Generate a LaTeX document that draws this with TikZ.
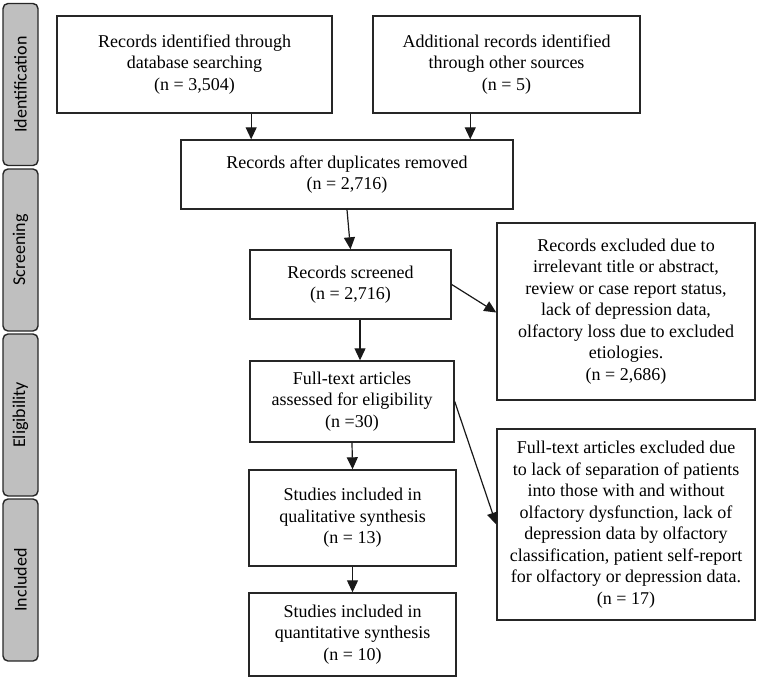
\documentclass[tikz,border=0pt]{standalone}
\usepackage{fontspec}
\setmainfont{Liberation Serif}
\newfontfamily\sidefont{Carlito}
\usetikzlibrary{positioning,calc,arrows.meta}

\tikzset{
    box/.style={draw=black!85, line width=1.4pt, align=center, inner sep=2pt,
        font=\fontsize{18}{21.5}\selectfont},
    phase/.style={draw=black!85, line width=1.4pt, fill=black!25, rounded corners=5pt,
        minimum width=162pt, minimum height=35pt, rotate=90, anchor=center,
        font=\sidefont\fontsize{18}{20}\selectfont},
    arr/.style={-{Triangle[length=12pt,width=11pt]}, line width=1.2pt, black!90}
}

\begin{document}
\begin{tikzpicture}[x=1pt, y=-1pt]
    \useasboundingbox (0,0) rectangle (759,679);

    % Phase bars
    \node[phase] (idn) at (20.5,84.5) {Identification};
    \node[phase] (scr) at (20.5,250) {Screening};
    \node[phase] (elg) at (20.5,415) {Eligibility};
    \node[phase] (inc) at (20.5,580) {Included};

    % Identification
    \node[box, minimum width=275pt, minimum height=97pt] (db) at (194.5,64.5)
        {Records identified through\\database searching\\(n = 3,504)};
    \node[box, minimum width=267pt, minimum height=97pt] (other) at (506.5,64.5)
        {Additional records identified\\through other sources\\(n = 5)};

    % Screening
    \node[box, minimum width=332pt, minimum height=69pt] (dup) at (347,174.5)
        {Records after duplicates removed\\(n = 2,716)};
    \node[box, minimum width=201pt, minimum height=69pt] (screened) at (350.5,284.5)
        {Records screened\\(n = 2,716)};
    \node[box, minimum width=258pt, minimum height=177pt] (excl) at (626,311.5)
        {Records excluded due to\\irrelevant title or abstract,\\review or case report status,\\lack of depression data,\\olfactory loss due to excluded\\etiologies.\\(n = 2,686)};

    % Eligibility
    \node[box, minimum width=204pt, minimum height=81pt] (full) at (352,401.5)
        {Full-text articles\\assessed for eligibility\\(n =30)};
    \node[box, minimum width=258pt, minimum height=191pt] (fexcl) at (626,524.5)
        {Full-text articles excluded due\\to lack of separation of patients\\into those with and without\\olfactory dysfunction, lack of\\depression data by olfactory\\classification, patient self-report\\for olfactory or depression data.\\(n = 17)};

    % Included
    \node[box, minimum width=207pt, minimum height=96pt] (qual) at (352.5,518)
        {Studies included in\\qualitative synthesis\\(n = 13)};
    \node[box, minimum width=207pt, minimum height=83pt] (quant) at (352.5,634.5)
        {Studies included in\\quantitative synthesis\\(n = 10)};

    % Connectors
    \coordinate (dbout) at ($(db.south west)!0.705!(db.south east)$);
    \coordinate (otherout) at ($(other.south west)!0.365!(other.south east)$);
    \coordinate (scrout) at ($(screened.south west)!0.547!(screened.south east)$);
    \coordinate (exclin) at ($(excl.west)+(0,1)$);
    \draw[arr] (dbout) -- (dbout |- dup.north);
    \draw[arr] (otherout) -- (otherout |- dup.north);
    \draw[arr] (dup.south) -- (screened.north);
    \draw[arr] (screened.east) -- (exclin);
    \draw[arr] (scrout) -- (scrout |- full.north);
    \draw[arr] (full.east) -- (fexcl.west);
    \draw[arr] (full.south) -- (qual.north);
    \draw[arr] (qual.south) -- (quant.north);
\end{tikzpicture}
\end{document}
